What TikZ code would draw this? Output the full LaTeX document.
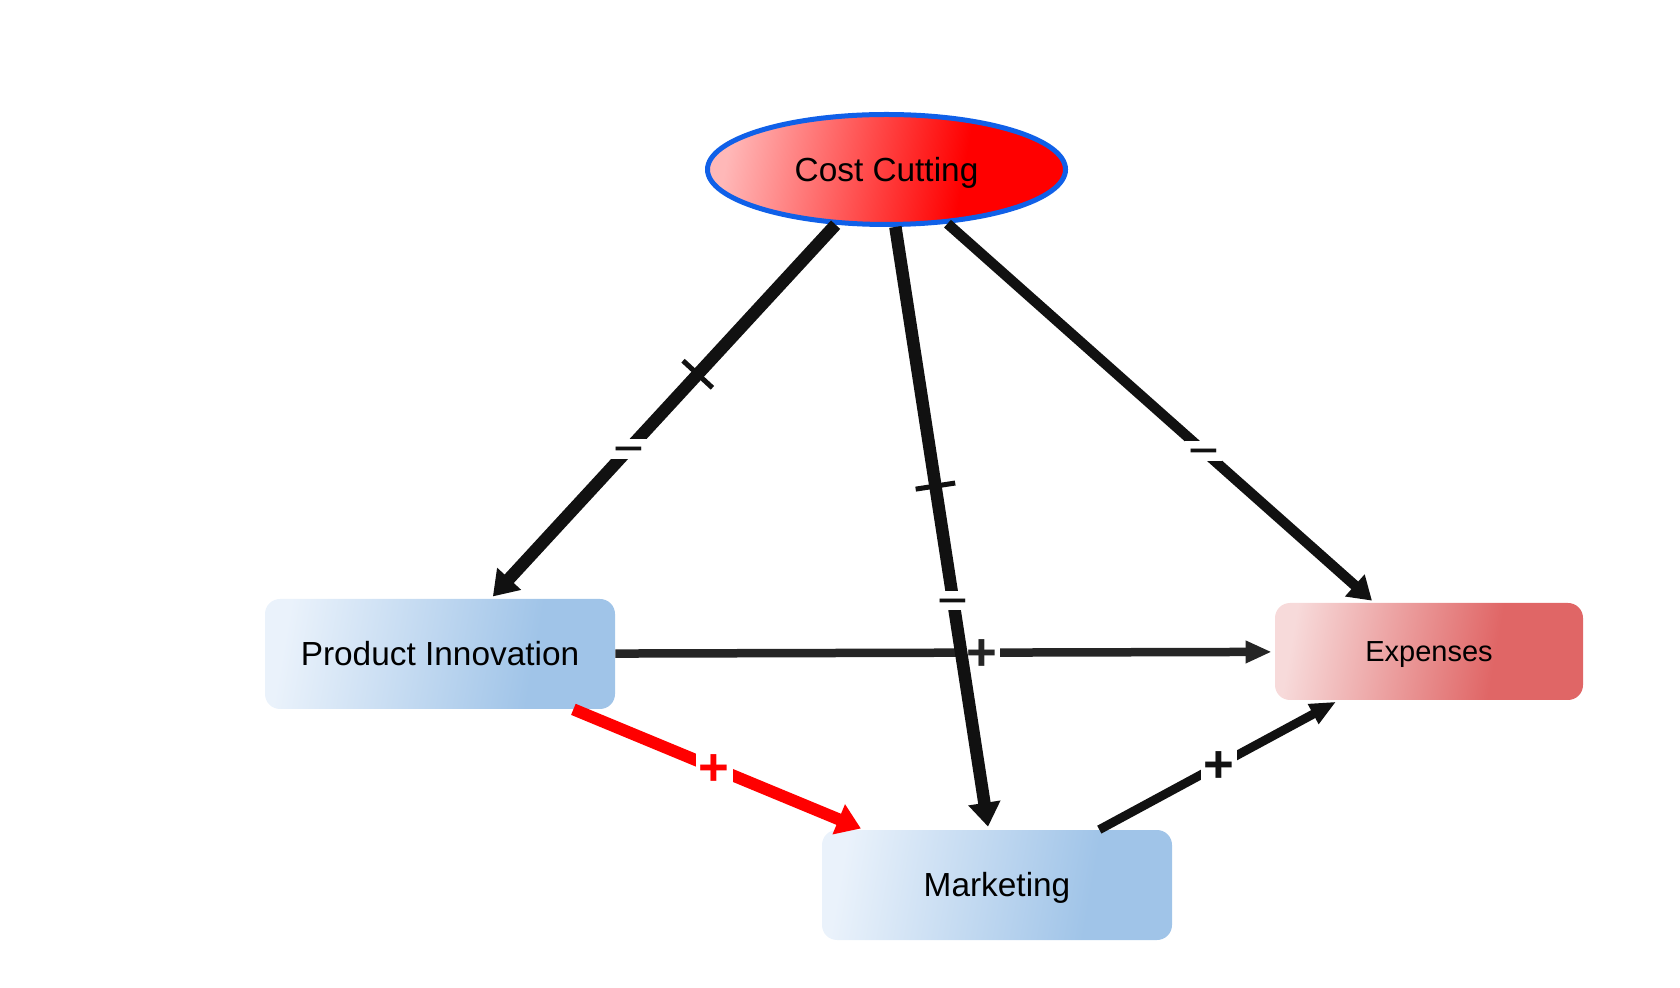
\documentclass[tikz,border=0pt]{standalone}
\usepackage{fontspec}
\setmainfont{Liberation Sans}
\usetikzlibrary{arrows.meta,positioning,shapes.geometric,decorations.markings}

\definecolor{ccborder}{RGB}{16,96,232}
\definecolor{cclight}{RGB}{255,184,184}
\definecolor{boxlight}{RGB}{234,242,251}
\definecolor{boxblue}{RGB}{160,196,232}
\definecolor{explight}{RGB}{247,218,218}
\definecolor{expred}{RGB}{224,102,102}
\definecolor{edgeblack}{RGB}{17,17,17}
\definecolor{edgegray}{RGB}{37,37,37}

\pgfdeclarehorizontalshading{ccshade}{100bp}{color(0bp)=(cclight); color(25bp)=(cclight); color(62bp)=(red); color(100bp)=(red)}
\pgfdeclarehorizontalshading{boxshade}{100bp}{color(0bp)=(boxlight); color(25bp)=(boxlight); color(65bp)=(boxblue); color(100bp)=(boxblue)}
\pgfdeclarehorizontalshading{expshade}{100bp}{color(0bp)=(explight); color(25bp)=(explight); color(62bp)=(expred); color(100bp)=(expred)}

\newcommand{\minussign}{\rule[-0.11em]{0pt}{0.22em}\smash{\raisebox{-0.34em}{−}}}
\newcommand{\plussign}{\rule[-0.26em]{0pt}{0.52em}\smash{\raisebox{-0.34em}{\bfseries +}}}

\begin{document}
\begin{tikzpicture}[
  ccnode/.style={ellipse,draw=ccborder,line width=0.1cm,shade,shading=ccshade,
    shading angle=-10,minimum width=7.16cm,minimum height=2.2cm,inner sep=0pt,
    text height=13.6pt,text depth=0pt,font=\fontsize{19}{23}\selectfont},
  box/.style={rectangle,rounded corners=0.3cm,shade,shading=boxshade,
    shading angle=-10,minimum width=7cm,minimum height=2.2cm,inner sep=0pt,
    text height=13.6pt,text depth=0pt,font=\fontsize{19}{23}\selectfont},
  thickarr/.style={edgeblack,line width=0.25cm,
    -{Triangle[length=0.48cm,width=0.62cm]},shorten >=0.06cm},
  thinarr/.style={edgeblack,line width=0.17cm,
    -{Triangle[length=0.52cm,width=0.42cm]},shorten >=0.06cm},
  sign/.style={fill=white,inner xsep=0.06cm,inner ysep=0.08cm,
    font=\fontsize{30}{30}\selectfont},
  delay/.style={postaction={decorate,decoration={markings,
    mark=at position #1 with {\draw[edgeblack,line width=0.1cm,-,shorten >=0pt]
      (0,-0.4) -- (0,0.4);}}}}
]
\useasboundingbox (0,0) rectangle (33.6,19.74);

\node[ccnode] (cc) at (17.73,16.35) {Cost Cutting};
\node[box] (pi) at (8.80,6.66) {Product Innovation};
\node[box] (mk) at (19.94,2.04) {Marketing};
\node[box,shading=expshade,minimum width=6.16cm,minimum height=1.94cm,
  text height=11.8pt,font=\fontsize{16.5}{20}\selectfont] (ex) at (28.58,6.71) {Expenses};

\draw[thinarr,edgegray] (pi) -- node[sign,pos=0.556] {\plussign} (ex);
\draw[thickarr,red,line width=0.24cm] (pi) -- node[sign,pos=0.485,text=red] {\plussign} (mk);
\draw[thinarr,line width=0.178cm] (mk) -- node[sign,pos=0.5] {\plussign} (ex);

\draw[thickarr,delay=0.40] (cc) -- node[sign,pos=0.60] {\minussign} (pi);
\draw[thickarr,delay=0.43] (cc) -- node[sign,pos=0.62] {\minussign} (mk);
\draw[thickarr,line width=0.206cm,-{Triangle[length=0.46cm,width=0.56cm]}]
  (cc) -- node[sign,pos=0.60] {\minussign} (ex);
\end{tikzpicture}
\end{document}
